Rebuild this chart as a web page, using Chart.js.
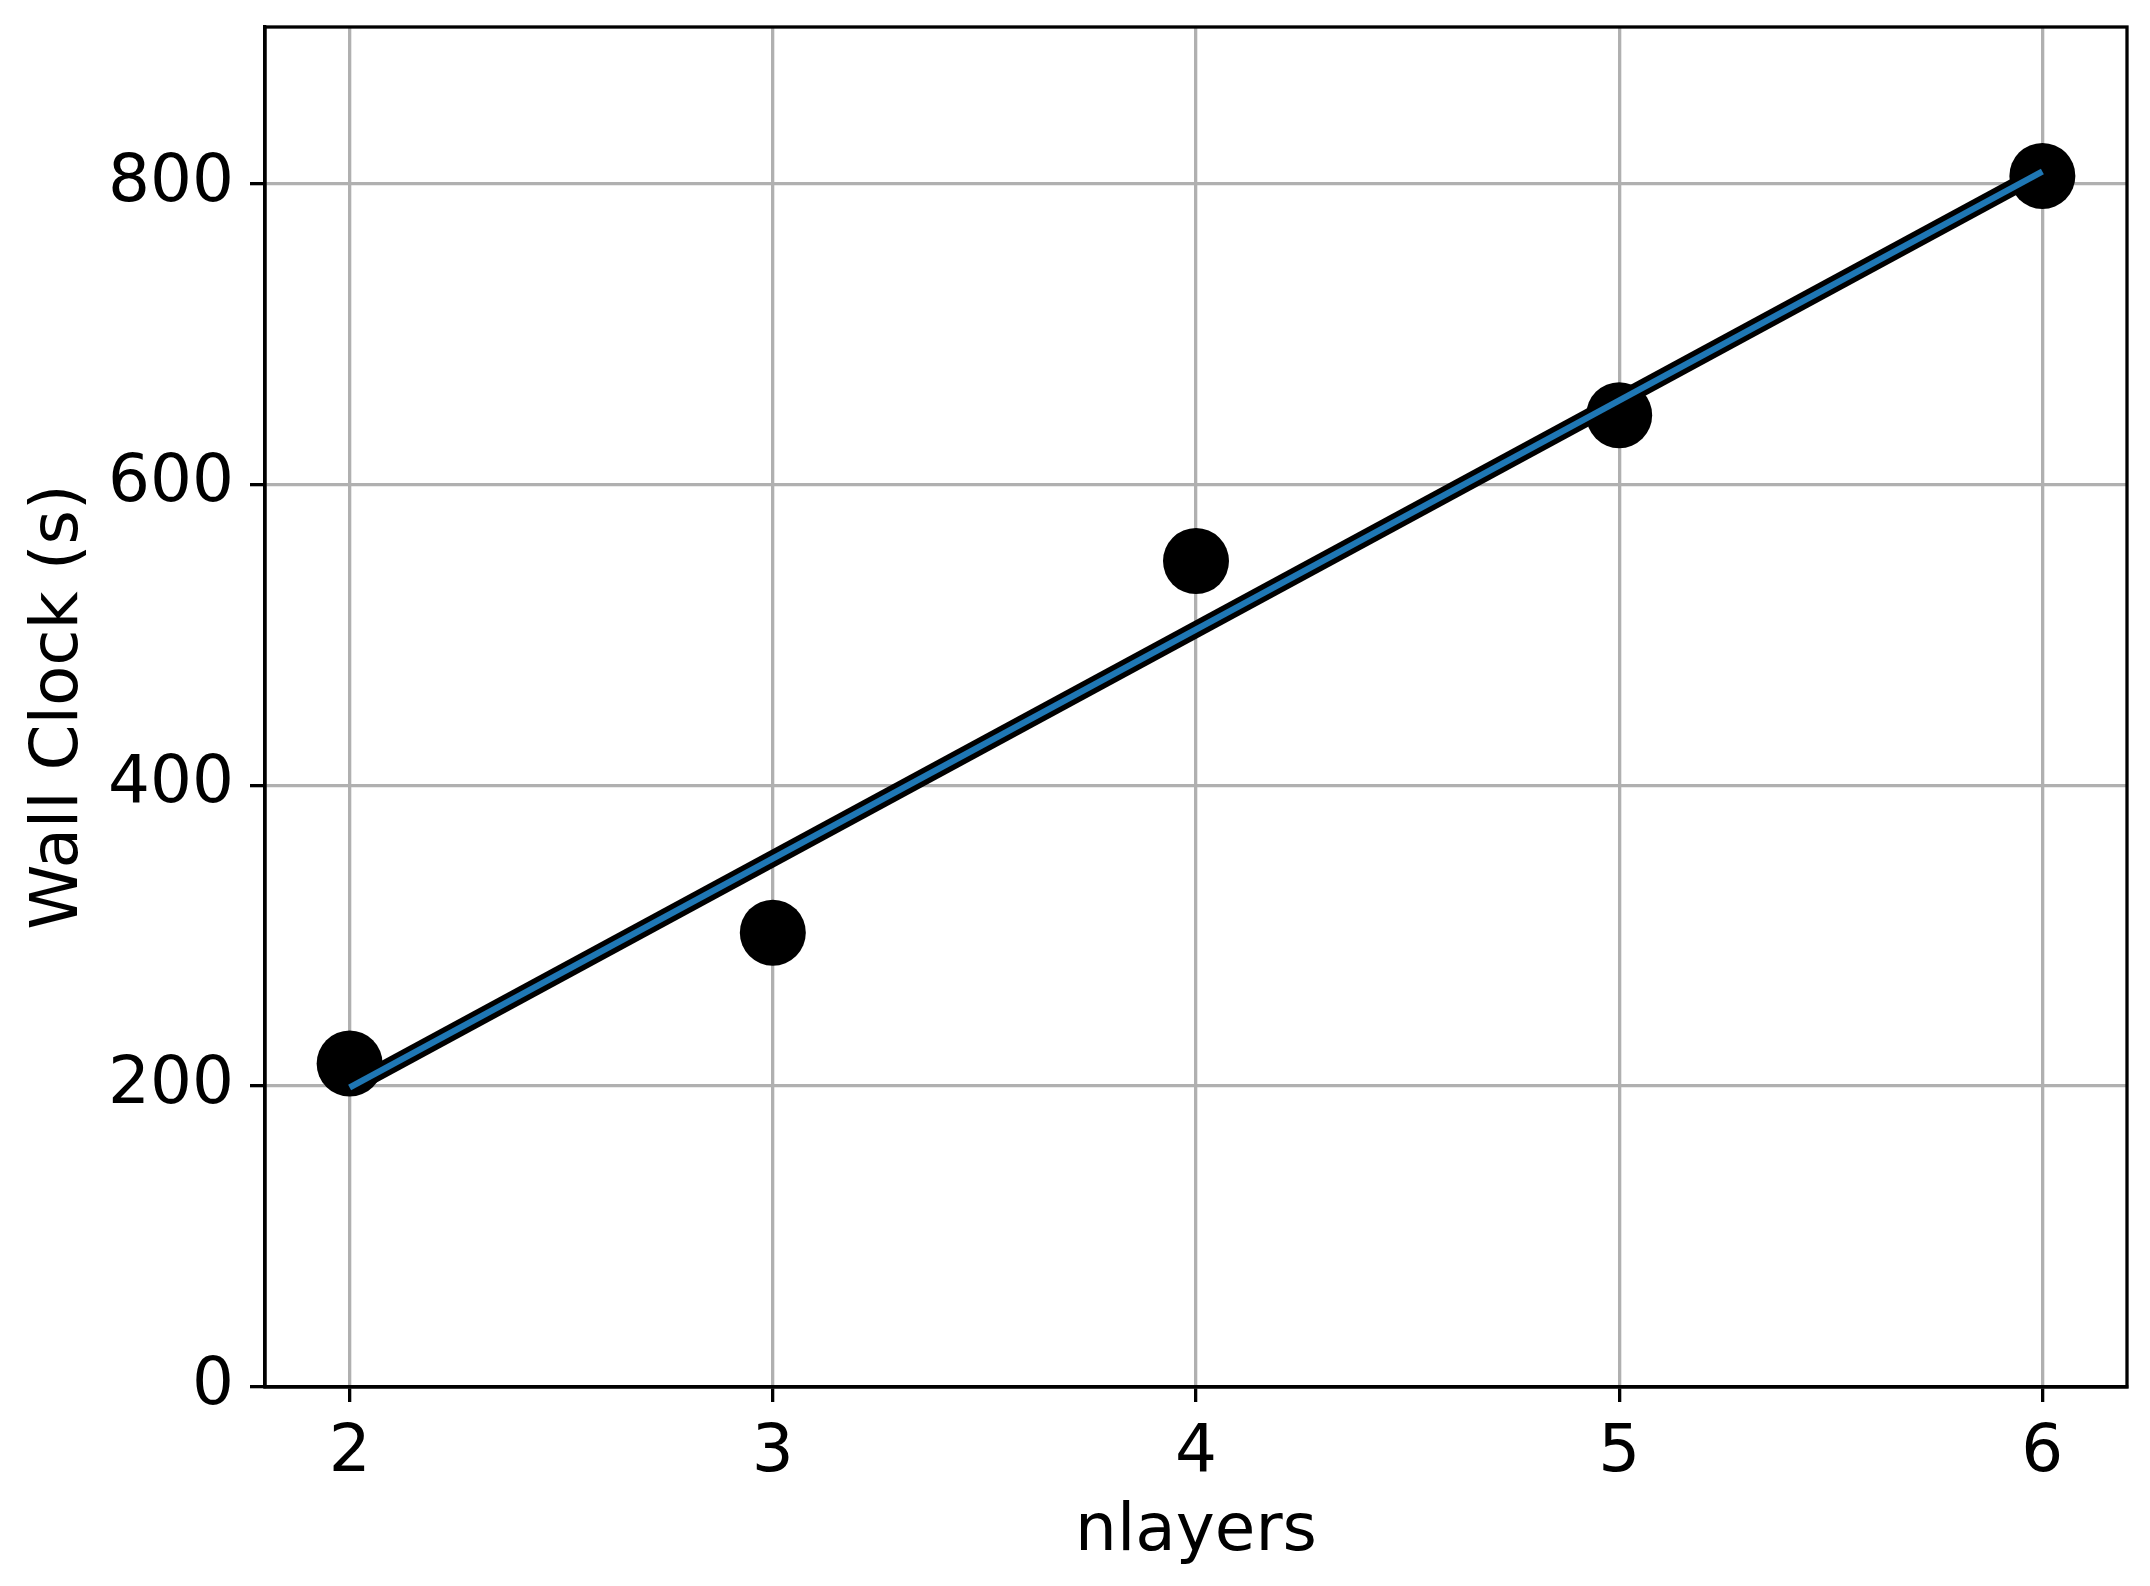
<!DOCTYPE html>
<html lang="en">
<head>
  <meta charset="UTF-8">
  <title>Wall Clock vs nlayers</title>
  <script src="https://cdn.jsdelivr.net/npm/chart.js@4.4.1/dist/chart.umd.min.js"></script>
  <style>
    body { margin: 0; background: #fff; }
    canvas { display: block; }
  </style>
</head>
<body>
  <canvas id="wallChart" width="2150" height="1586"></canvas>
  <script>
    // measured runs
    const nlayers = [2, 3, 4, 5, 6];
    const wallClock = [215, 302, 549, 646, 805];

    // linear fit, end points
    const fitX = [2, 6];
    const fitY = [199, 808];

    const xTicks = [2, 3, 4, 5, 6];
    const yTicks = [0, 200, 400, 600, 800];

    const font = { family: 'DejaVu Sans', size: 66 };
    const lw = 3.3;

    // top and right spines
    const frame = {
      id: 'frame',
      afterDraw(chart) {
        const { ctx, chartArea: a } = chart;
        ctx.save();
        ctx.strokeStyle = '#000';
        ctx.lineWidth = lw;
        ctx.strokeRect(a.left, a.top, a.right - a.left, a.bottom - a.top);
        ctx.restore();
      }
    };

    const ctx = document.getElementById('wallChart').getContext('2d');
    new Chart(ctx, {
      type: 'scatter',
      data: {
        datasets: [
          {
            data: fitX.map((x, i) => ({ x: x, y: fitY[i] })),
            showLine: true,
            borderColor: '#1f77b4',
            borderWidth: 6.25,
            borderCapStyle: 'butt',
            pointRadius: 0,
            order: 0
          },
          {
            data: fitX.map((x, i) => ({ x: x, y: fitY[i] })),
            showLine: true,
            borderColor: '#000',
            borderWidth: 16.7,
            borderCapStyle: 'butt',
            pointRadius: 0,
            order: 1
          },
          {
            data: nlayers.map((x, i) => ({ x: x, y: wallClock[i] })),
            backgroundColor: '#000',
            borderWidth: 0,
            pointRadius: 33,
            order: 2
          }
        ]
      },
      options: {
        responsive: false,
        animation: false,
        layout: { autoPadding: false, padding: { top: 27, right: 23, left: 0, bottom: 0 } },
        plugins: { legend: { display: false }, tooltip: { enabled: false } },
        scales: {
          x: {
            type: 'linear',
            min: 1.8,
            max: 6.2,
            afterBuildTicks: s => { s.ticks = xTicks.map(v => ({ value: v })); },
            afterFit: s => {
              s.height = 199;
              s.paddingLeft = 0; s.paddingRight = 0;
            },
            grid: { color: '#b0b0b0', lineWidth: lw, tickColor: '#000', tickWidth: lw, tickLength: 15 },
            border: { color: '#000', width: lw },
            ticks: { color: '#000', font: font, padding: 12, maxRotation: 0 },
            title: { display: true, text: 'nlayers', color: '#000', font: font, padding: { top: 0, bottom: 14 } }
          },
          y: {
            type: 'linear',
            min: 0,
            max: 904,
            afterBuildTicks: s => { s.ticks = yTicks.map(v => ({ value: v })); },
            afterFit: s => {
              s.width = 265;
              s.paddingTop = 0; s.paddingBottom = 0;
            },
            grid: { color: '#b0b0b0', lineWidth: lw, tickColor: '#000', tickWidth: lw, tickLength: 15 },
            border: { color: '#000', width: lw },
            ticks: { color: '#000', font: font, padding: 16 },
            title: { display: true, text: 'Wall Clock (s)', color: '#000', font: font, padding: { top: 20, bottom: 0 } }
          }
        }
      },
      plugins: [frame]
    });
  </script>
</body>
</html>
